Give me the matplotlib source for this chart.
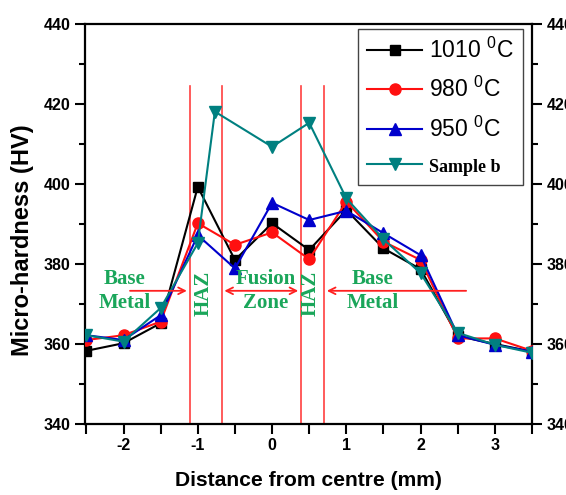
import matplotlib
matplotlib.use("Agg")
import matplotlib.pyplot as plt
from matplotlib.ticker import MultipleLocator, FuncFormatter

plt.rcParams['font.family'] = ['Liberation Sans', 'DejaVu Sans']
plt.rcParams['mathtext.default'] = 'regular'

# ---- data ----
x_std = [-2.5, -2, -1.5, -1, -0.5, 0, 0.5, 1, 1.5, 2, 2.5, 3, 3.5]
hv_1010 = [358.3, 360.2, 365.2, 399.3, 381.0, 390.2, 383.5, 393.5, 383.9, 378.7, 362.0, 360.0, 358.1]
hv_980 = [361.0, 362.2, 365.6, 390.2, 384.8, 387.9, 381.2, 395.6, 385.6, 381.0, 361.4, 361.4, 358.3]
hv_950 = [362.2, 361.0, 367.2, 387.2, 378.9, 395.3, 391.0, 393.3, 387.7, 382.2, 362.2, 359.8, 358.1]
x_b = [-2.5, -2, -1.5, -1, -0.77, 0, 0.5, 1, 1.5, 2, 2.5, 3, 3.5]
hv_b = [362.2, 360.6, 369.0, 385.2, 418.1, 409.3, 415.3, 396.4, 386.2, 377.7, 362.8, 359.8, 357.8]

series_labels = ['1010 $^{0}$C', '980 $^{0}$C', '950 $^{0}$C', 'Sample b']
zone_lines = [-1.11, -0.68, 0.39, 0.70]

fig = plt.figure(figsize=(5.66, 4.95), dpi=100)
ax = fig.add_axes([0.150, 0.1434, 0.790, 0.8081])

ax.plot(x_std, hv_1010, '-s', color='black', lw=1.5, ms=6.5, label=series_labels[0], zorder=3)
ax.plot(x_std, hv_980, '-o', color='#ff1010', lw=1.5, ms=8, label=series_labels[1], zorder=3)
ax.plot(x_std, hv_950, '-^', color='#0000cc', lw=1.5, ms=8, label=series_labels[2], zorder=3)
ax.plot(x_b, hv_b, '-v', color='#008080', lw=1.5, ms=8, label=series_labels[3], zorder=3)

# zone boundary lines
for xv in zone_lines:
    ax.plot([xv, xv], [340, 424.5], color='#ff4040', lw=1.2, zorder=2)

green = '#1aa65a'
tfont = dict(family='Liberation Serif', fontweight='bold', color=green, fontsize=15)
arrow_y = 373.3
ap = dict(arrowstyle='->', color='#ff2020', lw=1.3, mutation_scale=12)
ap2 = dict(arrowstyle='<->', color='#ff2020', lw=1.3, mutation_scale=12)
ax.annotate('', xy=(zone_lines[0], arrow_y), xytext=(-1.95, arrow_y), arrowprops=ap)
ax.annotate('', xy=(zone_lines[1], arrow_y), xytext=(zone_lines[2], arrow_y), arrowprops=ap2)
ax.annotate('', xy=(zone_lines[3], arrow_y), xytext=(2.65, arrow_y), arrowprops=ap)
ax.text(-1.98, 376.2, 'Base', ha='center', va='center', **tfont)
ax.text(-1.98, 370.3, 'Metal', ha='center', va='center', **tfont)
ax.text(-0.09, 376.2, 'Fusion', ha='center', va='center', **tfont)
ax.text(-0.09, 370.3, 'Zone', ha='center', va='center', **tfont)
ax.text(1.355, 376.2, 'Base', ha='center', va='center', **tfont)
ax.text(1.355, 370.3, 'Metal', ha='center', va='center', **tfont)
ax.text(-0.92, 372.8, 'HAZ', ha='center', va='center', rotation=90, **tfont)
ax.text(0.52, 372.8, 'HAZ', ha='center', va='center', rotation=90, **tfont)

ax.set_xlim(-2.52, 3.5)
ax.set_ylim(340, 440)

ax.xaxis.set_major_locator(MultipleLocator(0.5))
ax.xaxis.set_major_formatter(FuncFormatter(lambda v, p: f"{int(round(v))}" if abs(v - round(v)) < 1e-6 else ''))
ax.yaxis.set_major_locator(MultipleLocator(20))
ax.yaxis.set_minor_locator(MultipleLocator(10))

for s in ax.spines.values():
    s.set_linewidth(1.6)

ax.tick_params(axis='both', which='major', direction='out', length=7, width=1.5, labelsize=11.5)
ax.tick_params(axis='y', which='minor', direction='out', length=4, width=1.5)
ax.tick_params(axis='y', right=True, which='both', labelright=True)
ax.tick_params(axis='x', top=False, pad=3)
for lab in ax.get_xticklabels() + ax.get_yticklabels():
    lab.set_fontweight('bold')

ax.set_xlabel('Distance from centre (mm)', fontsize=15.2, fontweight='bold', labelpad=13)
ax.set_ylabel('Micro-hardness (HV)', fontsize=17, fontweight='bold')
ax.yaxis.set_label_coords(-0.114, 0.46)

leg = ax.legend(loc='upper right', bbox_to_anchor=(0.99, 1.0), fontsize=16.5, frameon=True,
                fancybox=False, edgecolor='#444444', framealpha=1, handlelength=2.4,
                handletextpad=0.3, borderpad=0.4, labelspacing=0.62, borderaxespad=0.2)
leg.get_frame().set_linewidth(1.0)
t = leg.get_texts()[3]
t.set_fontfamily('Liberation Serif')
t.set_fontweight('bold')
t.set_fontsize(13)

fig.savefig('out.png', dpi=100)
